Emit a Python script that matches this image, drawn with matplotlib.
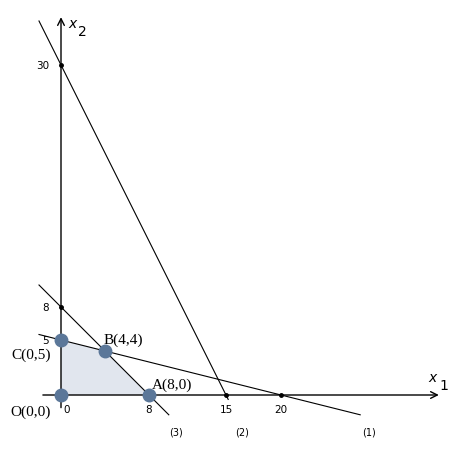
import numpy as np
import matplotlib
matplotlib.use('Agg')
import matplotlib.pyplot as plt
from matplotlib.patches import Polygon

# constraint lines a*x1 + b*x2 = c, drawn over [x_start, x_end]
lines = {'(1)': (1, 4, 20), '(2)': (2, 1, 30), '(3)': (1, 1, 8)}
line_span = {'(1)': (-2, 27.2), '(2)': (-2, 15.2), '(3)': (-2, 9.8)}
line_label_x = {'(1)': 28.0, '(2)': 16.5, '(3)': 10.5}

vertices = [(0, 0), (8, 0), (4, 4), (0, 5)]
vertex_names = ['O(0,0)', 'A(8,0)', 'B(4,4)', 'C(0,5)']
vertex_text_pos = [(-4.6, -1.45), (8.3, 1.0), (3.9, 5.1), (-4.5, 3.7)]

x_ticks = [0, 8, 15, 20]
y_ticks = [5, 8, 30]
tick_dots = [(0, 30), (0, 8), (15, 0), (20, 0)]

fig = plt.figure(figsize=(4.5, 4.56), dpi=100)
ax = fig.add_axes([0, 0, 1, 1])
ax.set_xlim(-61 / 11, 389 / 11)
ax.set_ylim(-60 / 11, 396 / 11)
ax.axis('off')

# feasible region
ax.add_patch(Polygon(vertices, closed=True, facecolor='#e1e6ee', edgecolor='none', zorder=1))

# axes with open arrow heads
ax.annotate('', xy=(34.6, 0), xytext=(-1.9, 0),
            arrowprops=dict(arrowstyle='->', lw=1.0, color='black', mutation_scale=12))
ax.annotate('', xy=(0, 34.6), xytext=(0, -1.4),
            arrowprops=dict(arrowstyle='->', lw=1.0, color='black', mutation_scale=12))

for name, (a, b, c) in lines.items():
    x0, x1 = line_span[name]
    xs = np.array([x0, x1])
    ys = (c - a * xs) / b
    ax.plot(xs, ys, color='black', lw=0.8, zorder=2)
    ax.text(line_label_x[name], -3.3, name, fontsize=7, family='DejaVu Sans',
            ha='center', va='center')

for px, py in tick_dots:
    ax.plot(px, py, 'o', color='black', ms=2.5, zorder=3)

for t in x_ticks:
    ax.text(t + 0.2 if t == 0 else t, -1.3, str(t), fontsize=7.5, ha='left' if t == 0 else 'center',
            va='center')
for t in y_ticks:
    ax.text(-1.1, t, str(t), fontsize=7.5, ha='right', va='center')

vx = [v[0] for v in vertices]
vy = [v[1] for v in vertices]
ax.plot(vx, vy, 'o', color='#5b7799', ms=9, zorder=4)
for name, (tx, ty) in zip(vertex_names, vertex_text_pos):
    ax.text(tx, ty, name, fontsize=11, family='Liberation Serif', ha='left', va='center')

# axis names
ax.text(0.6, 33.8, r'$x$', fontsize=10, ha='left', va='center')
ax.text(1.55, 33.1, '2', fontsize=10, ha='left', va='center')
ax.text(33.4, 1.6, r'$x$', fontsize=10, ha='left', va='center')
ax.text(34.4, 0.9, '1', fontsize=10, ha='left', va='center')

fig.savefig('out.png', dpi=100)
